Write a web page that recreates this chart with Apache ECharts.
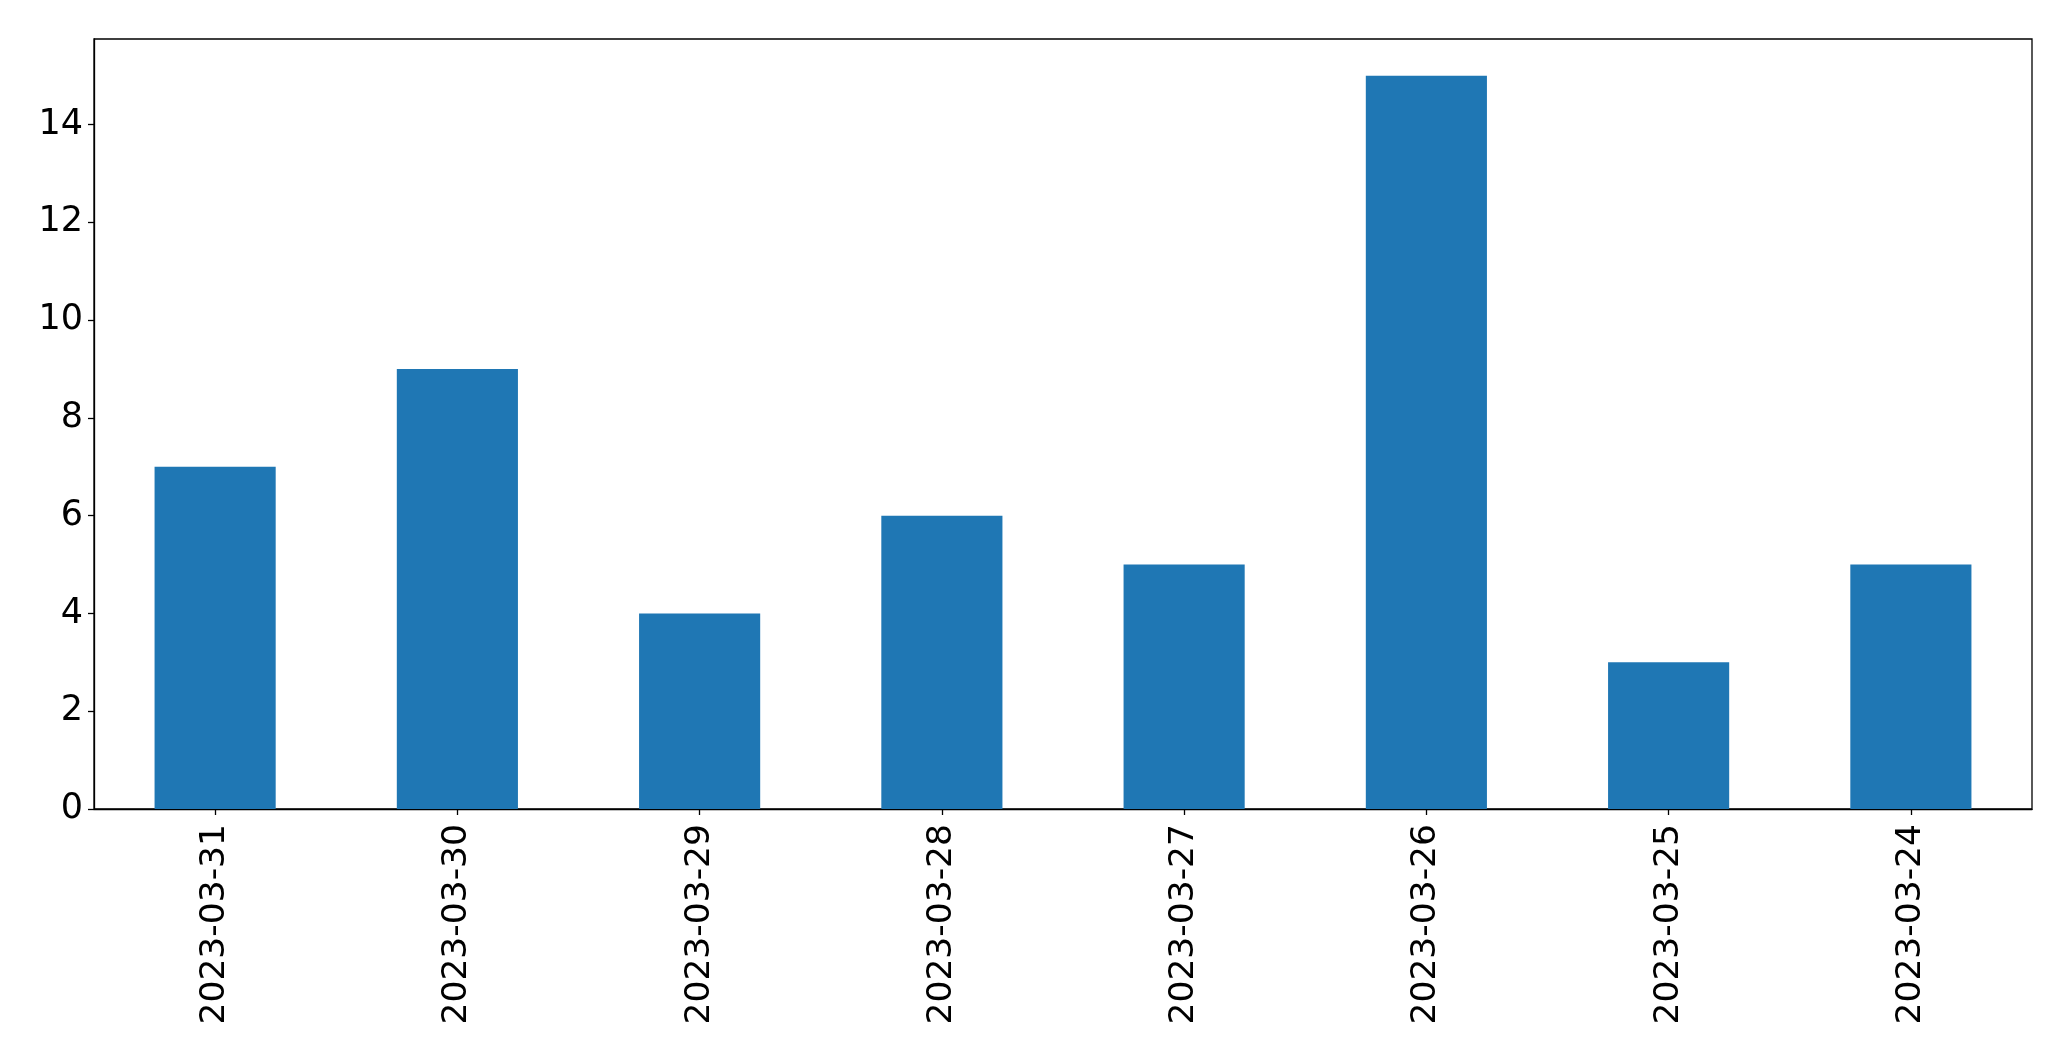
<!DOCTYPE html>
<html>
<head>
<meta charset="utf-8">
<script src="https://cdn.jsdelivr.net/npm/echarts@6/dist/echarts.min.js"></script>
<style>html,body{margin:0;padding:0;background:#fff;}#chart{width:2071px;height:1061px;}</style>
</head>
<body>
<div id="chart"></div>
<script>
const categories = ['2023-03-31','2023-03-30','2023-03-29','2023-03-28','2023-03-27','2023-03-26','2023-03-25','2023-03-24'];
const counts = [7, 9, 4, 6, 5, 15, 3, 5];
const yTicks = [0, 2, 4, 6, 8, 10, 12, 14];

const chart = echarts.init(document.getElementById('chart'), null, {renderer: 'canvas'});
chart.setOption({
  animation: false,
  backgroundColor: '#ffffff',
  textStyle: {fontFamily: 'DejaVu Sans'},
  grid: {left: 94, right: 39, top: 39, bottom: 252, show: true, borderColor: '#000', borderWidth: 1.3, backgroundColor: 'transparent'},
  xAxis: {
    type: 'category',
    data: categories,
    boundaryGap: true,
    axisLine: {show: true, lineStyle: {color: '#000', width: 1.3}},
    axisTick: {show: true, alignWithLabel: true, length: 6, lineStyle: {color: '#000', width: 1.3}},
    axisLabel: {rotate: 90, color: '#000', fontSize: 34.5, fontFamily: 'DejaVu Sans', margin: 15, interval: 0}
  },
  yAxis: {
    type: 'value',
    min: 0,
    max: 15.75,
    interval: 2,
    splitLine: {show: false},
    axisLine: {show: true, lineStyle: {color: '#000', width: 1.3}},
    axisTick: {show: true, length: 6, lineStyle: {color: '#000', width: 1.3}},
    axisLabel: {
      color: '#000', fontSize: 35, fontFamily: 'DejaVu Sans', margin: 11,
      showMaxLabel: false,
      formatter: function (v) { return yTicks.indexOf(v) >= 0 ? String(v) : ''; }
    }
  },
  series: [{
    type: 'bar',
    data: counts,
    barWidth: '50%',
    itemStyle: {color: '#1f77b4'}
  }]
});
</script>
</body>
</html>
